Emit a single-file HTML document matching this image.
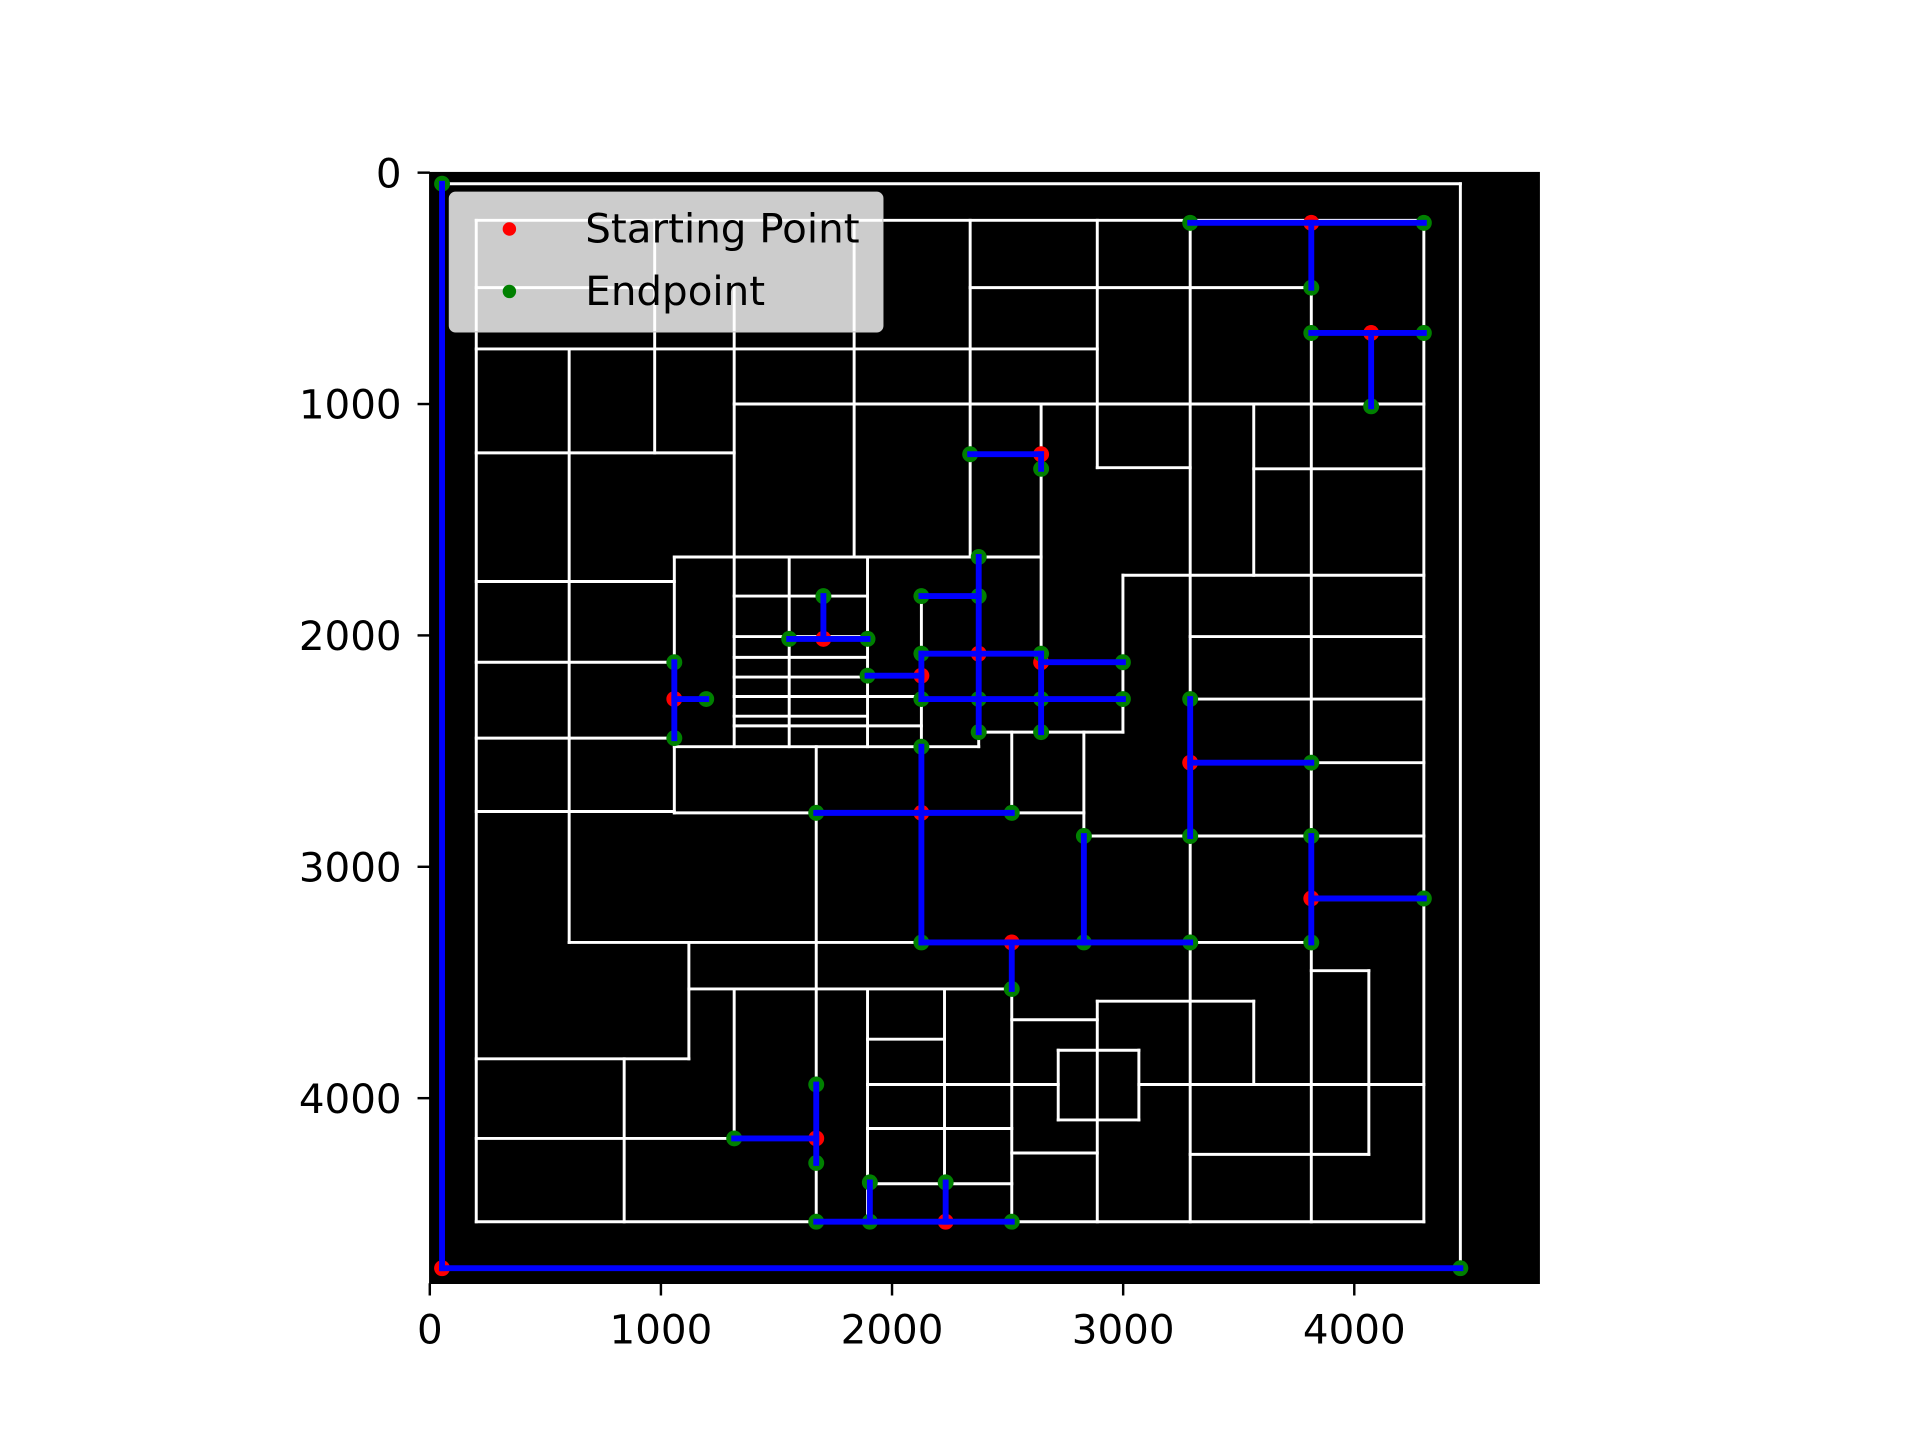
<!DOCTYPE html>
<html><head><meta charset="utf-8"><style>
html,body{margin:0;padding:0;background:#fff;}
svg{display:block;font-family:"DejaVu Sans","Liberation Sans",sans-serif;}
</style></head><body>
<svg id="chart" width="1920" height="1440" viewBox="0 0 1568 1176" xmlns="http://www.w3.org/2000/svg">
<rect x="0" y="0" width="1568" height="1176" fill="#fff"/>
<rect x="351" y="141" width="906" height="907" fill="#000"/>
<g id="walls"></g>
<g id="dots"></g>
<g id="path"></g>
<rect x="351" y="141" width="906" height="907" fill="none" stroke="#000" stroke-width="1.2"/>
<g id="ticks"></g>
<g>
<rect x="367" y="157" width="354" height="114" rx="5" fill="#fff" fill-opacity="0.8" stroke="#ccc" stroke-width="1"/>
<circle cx="416" cy="187" r="5.5" fill="#ff0000"/>
<text x="478" y="198" font-size="33" fill="#000">Starting Point</text>
<circle cx="416" cy="238" r="5.5" fill="#008000"/>
<text x="478" y="249" font-size="33" fill="#000">Endpoint</text>
</g>
</svg>
<script>
const xTicks = [0,1000,2000,3000,4000];
const yTicks = [0,1000,2000,3000,4000];
const wallSegments = [
[53,48,4459,48],[201,206,4301,206],[201,497,973,497],[2338,497,3814,497],[201,762,2888,762],
[1317,1000,4301,1000],[201,1211,1317,1211],[2888,1275,3290,1275],[3565,1280,4301,1280],
[1058,1661,2645,1661],[2999,1740,4301,1740],[201,1767,1058,1767],[1317,1830,1894,1830],
[3290,2005,4301,2005],[201,2116,1058,2116],[3290,2275,4301,2275],[2375,2418,2999,2418],
[201,2444,1058,2444],[1058,2481,2375,2481],[3290,2550,4301,2550],[201,2761,1058,2761],
[1058,2767,2830,2767],[2830,2867,4301,2867],[3814,3142,4301,3142],[603,3327,3814,3327],
[3814,3449,4063,3449],[1121,3528,2518,3528],[2518,3661,2888,3661],[2888,3581,3565,3581],
[2719,3793,3068,3793],[2719,4094,3068,4094],[201,3830,1121,3830],[1894,3941,2719,3941],
[3068,3941,4301,3941],[201,4174,1672,4174],[2518,4237,2888,4237],[3290,4243,4063,4243],
[201,4534,4301,4534],[1894,3745,2227,3745],[1894,4131,2518,4131],[1894,4370,2518,4370],
[1317,2005,1894,2005],[1317,2095,1894,2095],[1317,2180,1894,2180],[1317,2264,2127,2264],
[1317,2349,1894,2349],[1317,2391,2127,2391],
[201,206,201,4534],[603,762,603,3327],[973,206,973,1211],[1058,1661,1058,2767],
[1121,3327,1121,3830],[841,3830,841,4534],[1317,497,1317,2481],[1317,3528,1317,4174],
[1555,1661,1555,2481],[1672,2481,1672,4534],[1836,206,1836,1661],[1894,1661,1894,2481],
[1894,3528,1894,4534],[2127,1830,2127,2481],[2227,3528,2227,4370],[2338,206,2338,1661],
[2375,1661,2375,2481],[2518,2418,2518,2767],[2518,3528,2518,4534],[2645,1000,2645,2418],
[2830,2418,2830,3327],[2888,206,2888,1275],[2888,3581,2888,4534],[2999,1740,2999,2418],
[2719,3793,2719,4094],[3068,3793,3068,4094],[3290,206,3290,4534],[3565,1000,3565,1740],
[3565,3581,3565,3941],[3814,206,3814,4534],[4063,3449,4063,4243],[4301,206,4301,4534],
[4459,48,4459,4735]
];
const pathSegments = [
[53,48,53,4735],[53,4735,4459,4735],[3290,217,4301,217],[3814,217,3814,497],
[3814,693,4301,693],[4073,693,4073,1010],[2338,1217,2645,1217],[2645,1217,2645,1280],
[2375,1661,2375,2418],[2127,1830,2375,1830],[2127,2079,2645,2079],[2645,2079,2645,2418],
[2645,2116,2999,2116],[2127,2275,2999,2275],[2127,2079,2127,2275],[2127,2481,2127,3327],
[1894,2174,2127,2174],[1703,1830,1703,2015],[1555,2015,1894,2015],[1058,2116,1058,2444],
[1058,2275,1196,2275],[1672,2767,2518,2767],[3290,2550,3814,2550],[3290,2275,3290,2867],
[2830,2867,2830,3327],[2127,3327,3290,3327],[2518,3327,2518,3528],[3814,2867,3814,3327],
[3814,3137,4301,3137],[1672,3941,1672,4280],[1317,4174,1672,4174],[1904,4364,1904,4534],
[2232,4364,2232,4534],[1672,4534,2518,4534]
];
const startPoints = [
[53,4735],[3814,217],[4073,693],[2645,1217],[2375,2079],[2645,2116],[2127,2174],[1703,2015],
[1058,2275],[2127,2767],[3290,2550],[3814,3137],[2518,3327],[1672,4174],[2232,4534]
];
const endPoints = [
[53,48],[4459,4735],[3290,217],[4301,217],[3814,497],[3814,693],[4301,693],[4073,1010],
[2338,1217],[2645,1280],[2375,1661],[2127,1830],[2375,1830],[2127,2079],[2645,2079],
[2375,2275],[2645,2275],[2375,2418],[2645,2418],[2999,2116],[2127,2275],[2999,2275],
[1894,2174],[1703,1830],[1555,2015],[1894,2015],[1058,2116],[1058,2444],[1196,2275],
[2127,2481],[1672,2767],[2518,2767],[3290,2275],[3290,2867],[3814,2550],[2830,2867],
[2830,3327],[2127,3327],[3290,3327],[2518,3528],[3814,2867],[3814,3327],[4301,3137],
[1672,3941],[1672,4280],[1317,4174],[1904,4364],[1904,4534],[2232,4364],[1672,4534],[2518,4534]
];
const NS = "http://www.w3.org/2000/svg";
function sx(d){ return 351 + d * 906 / 4800; }
function sy(d){ return 141 + d * 907 / 4800; }
function mk(tag, attrs, parent){
  const e = document.createElementNS(NS, tag);
  for (const k in attrs) e.setAttribute(k, attrs[k]);
  parent.appendChild(e);
  return e;
}
const gw = document.getElementById('walls');
wallSegments.forEach(s => {
  const l = mk('line', {x1:sx(s[0]), y1:sy(s[1]), x2:sx(s[2]), y2:sy(s[3]), stroke:'#fff', 'stroke-width':2.4, 'stroke-linecap':'square'}, gw);
  
  
});
const gd = document.getElementById('dots');
startPoints.forEach(p => {
  const c = mk('circle', {cx:sx(p[0]), cy:sy(p[1]), r:6.5, fill:'#ff0000'}, gd);
  
  
});
endPoints.forEach(p => {
  const c = mk('circle', {cx:sx(p[0]), cy:sy(p[1]), r:6.5, fill:'#008000'}, gd);
  
  
});
const gp = document.getElementById('path');
pathSegments.forEach(s => {
  const l = mk('line', {x1:sx(s[0]), y1:sy(s[1]), x2:sx(s[2]), y2:sy(s[3]), stroke:'#0000ff', 'stroke-width':4.8, 'stroke-linecap':'square'}, gp);
  
  
});
const gt = document.getElementById('ticks');
xTicks.forEach(v => {
  const t = mk('line', {x1:sx(v), y1:1048, x2:sx(v), y2:1058, stroke:'#000', 'stroke-width':2}, gt);
  
  
  const tx = mk('text', {x:sx(v), y:1097, 'font-size':33, 'text-anchor':'middle', fill:'#000'}, gt);
  tx.textContent = v;
  
  
});
yTicks.forEach(v => {
  const t = mk('line', {x1:341, y1:sy(v), x2:351, y2:sy(v), stroke:'#000', 'stroke-width':2}, gt);
  
  
  const tx = mk('text', {x:328, y:sy(v)+12, 'font-size':33, 'text-anchor':'end', fill:'#000'}, gt);
  tx.textContent = v;
  
  
});
</script>
</body></html>
